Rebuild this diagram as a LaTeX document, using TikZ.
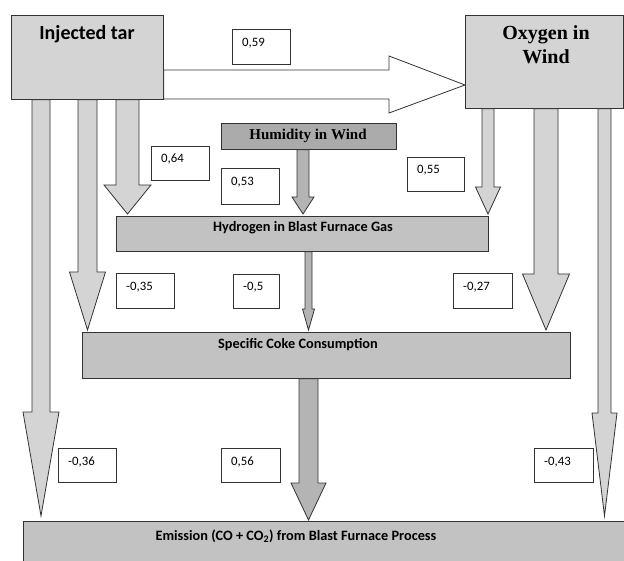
\documentclass[tikz,border=0pt]{standalone}
\usepackage{fontspec}
\setmainfont{Carlito}
\newfontfamily\serifbold{Liberation Serif}
\usetikzlibrary{calc}
\definecolor{lg}{HTML}{D4D4D4}
\definecolor{mg}{HTML}{C2C2C2}
\definecolor{dg}{HTML}{ABABAB}
\definecolor{ag}{HTML}{B4B4B4}
\definecolor{ln}{HTML}{333333}
% #1 style, #2 x centre, #3 from node, #4 to node, #5 half shaft, #6 half head, #7 head length, #8 gap
\newcommand\vblk[8]{%
  \draw[#1] let \p1=(#3.south), \p2=(#4.north) in
   (#2pt-#5pt,\y1) -- (#2pt+#5pt,\y1) -- (#2pt+#5pt,\y2+#8pt+#7pt) -- (#2pt+#6pt,\y2+#8pt+#7pt)
   -- (#2pt,\y2+#8pt) -- (#2pt-#6pt,\y2+#8pt+#7pt) -- (#2pt-#5pt,\y2+#8pt+#7pt) -- cycle;}
\tikzset{
  box/.style={draw=ln, line width=0.8pt, anchor=north west, inner sep=0pt},
  numbox/.style={draw=ln, line width=0.8pt, fill=white, anchor=north west, inner sep=0pt},
  numtxt/.style={anchor=west, inner sep=0pt, font=\fontsize{12.8}{14}\selectfont},
  sidearrow/.style={draw=ln, line width=0.8pt, fill=lg, line join=miter},
  midarrow/.style={draw=ln, line width=0.8pt, fill=ag, line join=miter},
  harrow/.style={draw=ln, line width=0.8pt, fill=white, line join=miter},
  sansb/.style={inner sep=0pt, font=\bfseries\fontsize{14.3}{16}\selectfont},
}
\begin{document}
\begin{tikzpicture}[x=1pt, y=-1pt]
\useasboundingbox (0,0) rectangle (624,561);
\clip (0,0) rectangle (624,561);
% main boxes
\node[box, fill=lg, minimum width=152pt, minimum height=84pt] (tar) at (11,15) {};
\node[box, fill=lg, minimum width=158pt, minimum height=93pt] (oxy) at (465,15) {};
\node[box, fill=dg, minimum width=175pt, minimum height=26pt] (hum) at (221,123) {};
\node[box, fill=mg, minimum width=372pt, minimum height=35pt] (hyd) at (116,216) {};
\node[box, fill=mg, minimum width=488pt, minimum height=46pt] (coke) at (82,332) {};
\node[box, fill=mg, minimum width=620pt, minimum height=60pt] (emis) at (23,521) {};
% box texts
\node[inner sep=0pt, font=\bfseries\fontsize{20}{22}\selectfont] (tarT) at (87,34) {Injected tar};
\node[inner sep=0pt, align=center, font=\serifbold\bfseries\fontsize{20}{24}\selectfont] (oxyT) at (546,45) {Oxygen in\\Wind};
\node[inner sep=0pt, font=\serifbold\bfseries\fontsize{15}{17}\selectfont] (humT) at (308,136) {Humidity in Wind};
\node[sansb] (hydT) at (303,228) {Hydrogen in Blast Furnace Gas};
\node[sansb] (cokeT) at (298,345) {Specific Coke Consumption};
\node[sansb] (emisT) at (296,536) {Emission (CO + CO\textsubscript{2}) from Blast Furnace Process};
% horizontal block arrow
\draw[harrow] let \p1=(tar.east), \p2=(oxy.west) in
  (\x1,-70pt) -- (\x2-76pt,-70pt) -- (\x2-76pt,-56pt) -- (\x2,-85pt) -- (\x2-76pt,-113pt)
  -- (\x2-76pt,-99pt) -- (\x1,-99pt) -- cycle;
% vertical block arrows
\vblk{sidearrow}{41}{tar}{emis}{9}{18}{104}{5}
\vblk{sidearrow}{87.5}{tar}{coke}{9.5}{18}{58}{2}
\vblk{sidearrow}{127.5}{tar}{hyd}{11.5}{23.5}{29}{2}
\vblk{sidearrow}{488}{oxy}{hyd}{6}{12.5}{27}{2}
\vblk{sidearrow}{546}{oxy}{coke}{12}{23.5}{56}{2}
\vblk{sidearrow}{604.5}{oxy}{emis}{6.5}{12.5}{103}{5}
\vblk{midarrow}{303}{hum}{hyd}{6}{11}{17}{2}
\vblk{midarrow}{308.5}{hyd}{coke}{3.5}{6}{21}{2}
\vblk{midarrow}{308.5}{coke}{emis}{9.5}{17.5}{37}{1}
% coefficient boxes
\node[numbox, minimum width=58pt, minimum height=35pt] (b059) at (232,29) {};
\node[numbox, minimum width=58pt, minimum height=34pt] (b064) at (151,146) {};
\node[numbox, minimum width=58pt, minimum height=36pt] (b053) at (221,168) {};
\node[numbox, minimum width=57pt, minimum height=34pt] (b055) at (407,157) {};
\node[numbox, minimum width=58pt, minimum height=35pt] (bm035) at (116,273) {};
\node[numbox, minimum width=46pt, minimum height=34pt] (bm05) at (233,274) {};
\node[numbox, minimum width=59pt, minimum height=35pt] (bm027) at (453,273) {};
\node[numbox, minimum width=58pt, minimum height=34pt] (bm036) at (58,448) {};
\node[numbox, minimum width=59pt, minimum height=34pt] (b056) at (221,448) {};
\node[numbox, minimum width=59pt, minimum height=34pt] (bm043) at (534,448) {};
\node[numtxt] (t059) at ($(b059.north west)+(10,14)$) {0,59};
\node[numtxt] (t064) at ($(b064.north west)+(10,13)$) {0,64};
\node[numtxt] (t053) at ($(b053.north west)+(10,14)$) {0,53};
\node[numtxt] (t055) at ($(b055.north west)+(10,13)$) {0,55};
\node[numtxt] (tm035) at ($(bm035.north west)+(10,14)$) {-0,35};
\node[numtxt] (tm05) at ($(bm05.north west)+(10,13)$) {-0,5};
\node[numtxt] (tm027) at ($(bm027.north west)+(10,14)$) {-0,27};
\node[numtxt] (tm036) at ($(bm036.north west)+(10,14)$) {-0,36};
\node[numtxt] (t056) at ($(b056.north west)+(10,14)$) {0,56};
\node[numtxt] (tm043) at ($(bm043.north west)+(10,14)$) {-0,43};
\end{tikzpicture}
\end{document}
